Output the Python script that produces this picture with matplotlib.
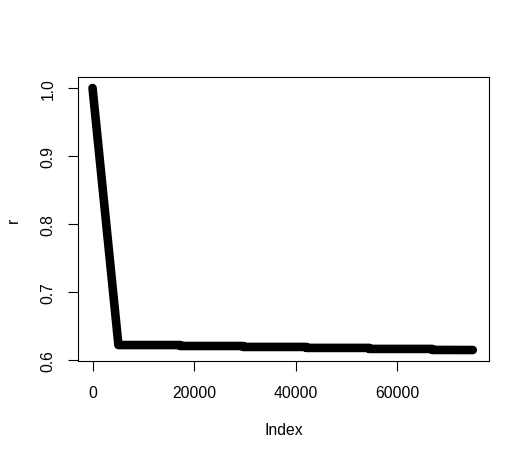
import matplotlib
matplotlib.use("Agg")
import matplotlib.pyplot as plt

plt.rcParams['font.family'] = ['Liberation Sans', 'DejaVu Sans']

# ================================
# values (index, r)
# ================================
index = [1, 5100, 17300, 17301, 29700, 29701, 42100, 42101,
         54500, 54501, 66900, 66901, 74900]
r = [1.0, 0.6220, 0.6220, 0.6206, 0.6206, 0.6192, 0.6192, 0.6178,
     0.6178, 0.6163, 0.6163, 0.6148, 0.6147]

x_ticks = [0, 20000, 40000, 60000]
y_ticks = [0.6, 0.7, 0.8, 0.9, 1.0]

fig = plt.figure(figsize=(5.3, 4.6), dpi=100)
ax = fig.add_axes([0.1472, 0.2130, 0.7755, 0.6174])

ax.plot(index, r, color="black", lw=6.2,
        solid_capstyle="round", solid_joinstyle="round")

ax.set_xlim(-2860, 78100)
ax.set_ylim(0.5985, 1.0162)
ax.set_xticks(x_ticks)
ax.set_xticklabels([str(t) for t in x_ticks])
ax.set_yticks(y_ticks)
ax.set_yticklabels([f"{t:.1f}" for t in y_ticks], rotation=90, va="center")

ax.tick_params(axis="both", direction="out", length=7, width=0.8,
               labelsize=11.3, color="black")
ax.tick_params(axis="x", pad=10)
ax.tick_params(axis="y", pad=9)
for s in ax.spines.values():
    s.set_linewidth(0.8)

fig.text(0.5 * (78 + 489) / 530, 1 - 431 / 460, "Index",
         ha="center", va="center", fontsize=11.3)
fig.text(13 / 530, 1 - 220 / 460, "r", rotation=90,
         ha="center", va="center", fontsize=11.3)

fig.savefig("out.png", dpi=100)
